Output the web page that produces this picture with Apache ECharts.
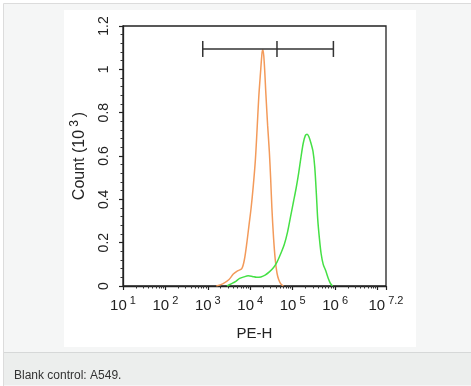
<!DOCTYPE html>
<html><head><meta charset="utf-8">
<script src="https://cdn.jsdelivr.net/npm/echarts@6/dist/echarts.min.js"></script>
<style>html,body{margin:0;padding:0;background:#fff}#c{width:471px;height:386px}</style>
</head><body><div id="c"></div>
<script>
// x values are log10(PE-H)
const xMajorLabels = [1, 2, 3, 4, 5, 6, 7.2];
const xLabelText = {1:'1',2:'2',3:'3',4:'4',5:'5',6:'6',7.2:'7.2'};
const blankControl = [
  [3.20,0],[3.35,0.01],[3.50,0.03],[3.60,0.055],[3.70,0.07],[3.80,0.08],[3.86,0.12],[3.92,0.20],
  [3.97,0.28],[4.02,0.36],[4.07,0.46],[4.12,0.58],[4.16,0.72],[4.20,0.87],[4.24,0.98],[4.28,1.08],
  [4.30,1.09],[4.33,1.03],[4.37,0.88],[4.41,0.74],[4.45,0.62],[4.48,0.50],[4.51,0.36],[4.55,0.22],
  [4.59,0.12],[4.63,0.06],[4.67,0.03],[4.72,0.01],[4.78,0]
];
const stained = [
  [3.45,0],[3.55,0.01],[3.65,0.02],[3.75,0.035],[3.85,0.042],[3.95,0.047],[4.05,0.044],[4.15,0.04],
  [4.25,0.042],[4.35,0.05],[4.45,0.065],[4.55,0.085],[4.63,0.11],[4.72,0.15],[4.80,0.19],[4.88,0.25],
  [4.95,0.32],[5.02,0.39],[5.08,0.45],[5.14,0.52],[5.20,0.60],[5.25,0.66],[5.30,0.695],[5.34,0.70],
  [5.38,0.69],[5.43,0.66],[5.48,0.62],[5.52,0.55],[5.56,0.42],[5.59,0.31],[5.63,0.22],[5.67,0.15],
  [5.72,0.10],[5.78,0.07],[5.84,0.035],[5.89,0.012],[5.94,0]
];
const gate = [[2.88, 4.63, 5.96, 1.094]];
const caption = 'Blank control: A549.';

const minorX = [];
for (let n = 1; n <= 7; n++) for (let k = 2; k <= 9; k++) { const v = n + Math.log10(k); if (v < 7.2) minorX.push(v); }

const chart = echarts.init(document.getElementById('c'));
const FONT = 'Liberation Sans, Arial, sans-serif';
chart.setOption({
  animation: false,
  backgroundColor: '#ffffff',
  graphic: [
    {type:'rect', z:-10, shape:{x:3.5,y:3.5,width:470,height:384}, style:{fill:'#f5f6f6', stroke:'#dcdcdc', lineWidth:1}},
    {type:'rect', z:-9, shape:{x:64,y:10,width:352,height:337}, style:{fill:'#ffffff'}},
    {type:'rect', z:-9, shape:{x:4,y:352,width:470,height:33}, style:{fill:'#eceeed'}},
    {type:'line', z:-8, shape:{x1:4,y1:352.5,x2:471,y2:352.5}, style:{stroke:'#d6d8d8', lineWidth:1}},
    {type:'text', z:5, left:14, top:370, style:{text:caption, fill:'#333', font:'12px ' + FONT}}
  ],
  grid: {left:123, right:85, top:26, bottom:100, show:true, borderColor:'#222', borderWidth:1.3, backgroundColor:'transparent'},
  xAxis: [{
    type:'value', min:1, max:7.2, interval:1,
    axisLine:{lineStyle:{color:'#222', width:1.3}},
    axisTick:{show:true, length:4, lineStyle:{color:'#222', width:1.2}, customValues:[1,2,3,4,5,6,7,7.2]},
    splitLine:{show:false},
    axisLabel:{
      customValues: xMajorLabels, margin:9, color:'#222',
      formatter: v => '{b|10}{s|' + (xLabelText[v] || v) + '}',
      rich:{ b:{fontSize:15, fontFamily:FONT, color:'#222', lineHeight:18, verticalAlign:'bottom'},
             s:{fontSize:11, fontFamily:FONT, color:'#222', verticalAlign:'top', lineHeight:12, padding:[0,0,0,3]} }
    },
    name:'PE-H', nameLocation:'middle', nameGap:40,
    nameTextStyle:{fontSize:15, fontFamily:FONT, color:'#222'}
  },{
    type:'value', min:1, max:7.2, position:'bottom', gridIndex:0,
    axisLine:{show:false}, axisLabel:{show:false}, splitLine:{show:false},
    axisTick:{show:true, length:2.5, lineStyle:{color:'#333', width:1}, customValues:minorX}
  }],
  yAxis: {
    type:'value', min:0, max:1.2, interval:0.2,
    axisLine:{show:true, lineStyle:{color:'#222', width:1.3}},
    axisTick:{show:true, length:4, lineStyle:{color:'#222', width:1.2}},
    minorTick:{show:true, splitNumber:5, length:2.5, lineStyle:{color:'#333', width:1}},
    splitLine:{show:false},
    axisLabel:{rotate:90, margin:12, fontSize:14, fontFamily:FONT, color:'#222'},
    name:'Count (10{s|3})', nameLocation:'middle', nameGap:41, nameRotate:90,
    nameTextStyle:{fontSize:16, fontFamily:FONT, color:'#222', lineHeight:20, verticalAlign:'middle',
      rich:{s:{fontSize:12, fontFamily:FONT, color:'#222', verticalAlign:'top', lineHeight:12, padding:[0,3,0,3]}}}
  },
  series: [
    {type:'line', data:blankControl, showSymbol:false, smooth:0.3, lineStyle:{color:'#f39a5a', width:1.5}, z:3},
    {type:'line', data:stained, showSymbol:false, smooth:0.3, lineStyle:{color:'#45e045', width:1.5}, z:3},
    {type:'custom', data:gate, z:4,
      renderItem:(params, api) => {
        const a = api.coord([api.value(0), api.value(3)]);
        const m = api.coord([api.value(1), api.value(3)]);
        const b = api.coord([api.value(2), api.value(3)]);
        const st = {stroke:'#333', lineWidth:1.5};
        return {type:'group', children:[
          {type:'line', shape:{x1:a[0],y1:a[1],x2:b[0],y2:b[1]}, style:st},
          {type:'line', shape:{x1:a[0],y1:a[1]-8,x2:a[0],y2:a[1]+8}, style:st},
          {type:'line', shape:{x1:m[0],y1:m[1]-8,x2:m[0],y2:m[1]+8}, style:st},
          {type:'line', shape:{x1:b[0],y1:b[1]-8,x2:b[0],y2:b[1]+8}, style:st}
        ]};
      }}
  ]
});
</script></body></html>
